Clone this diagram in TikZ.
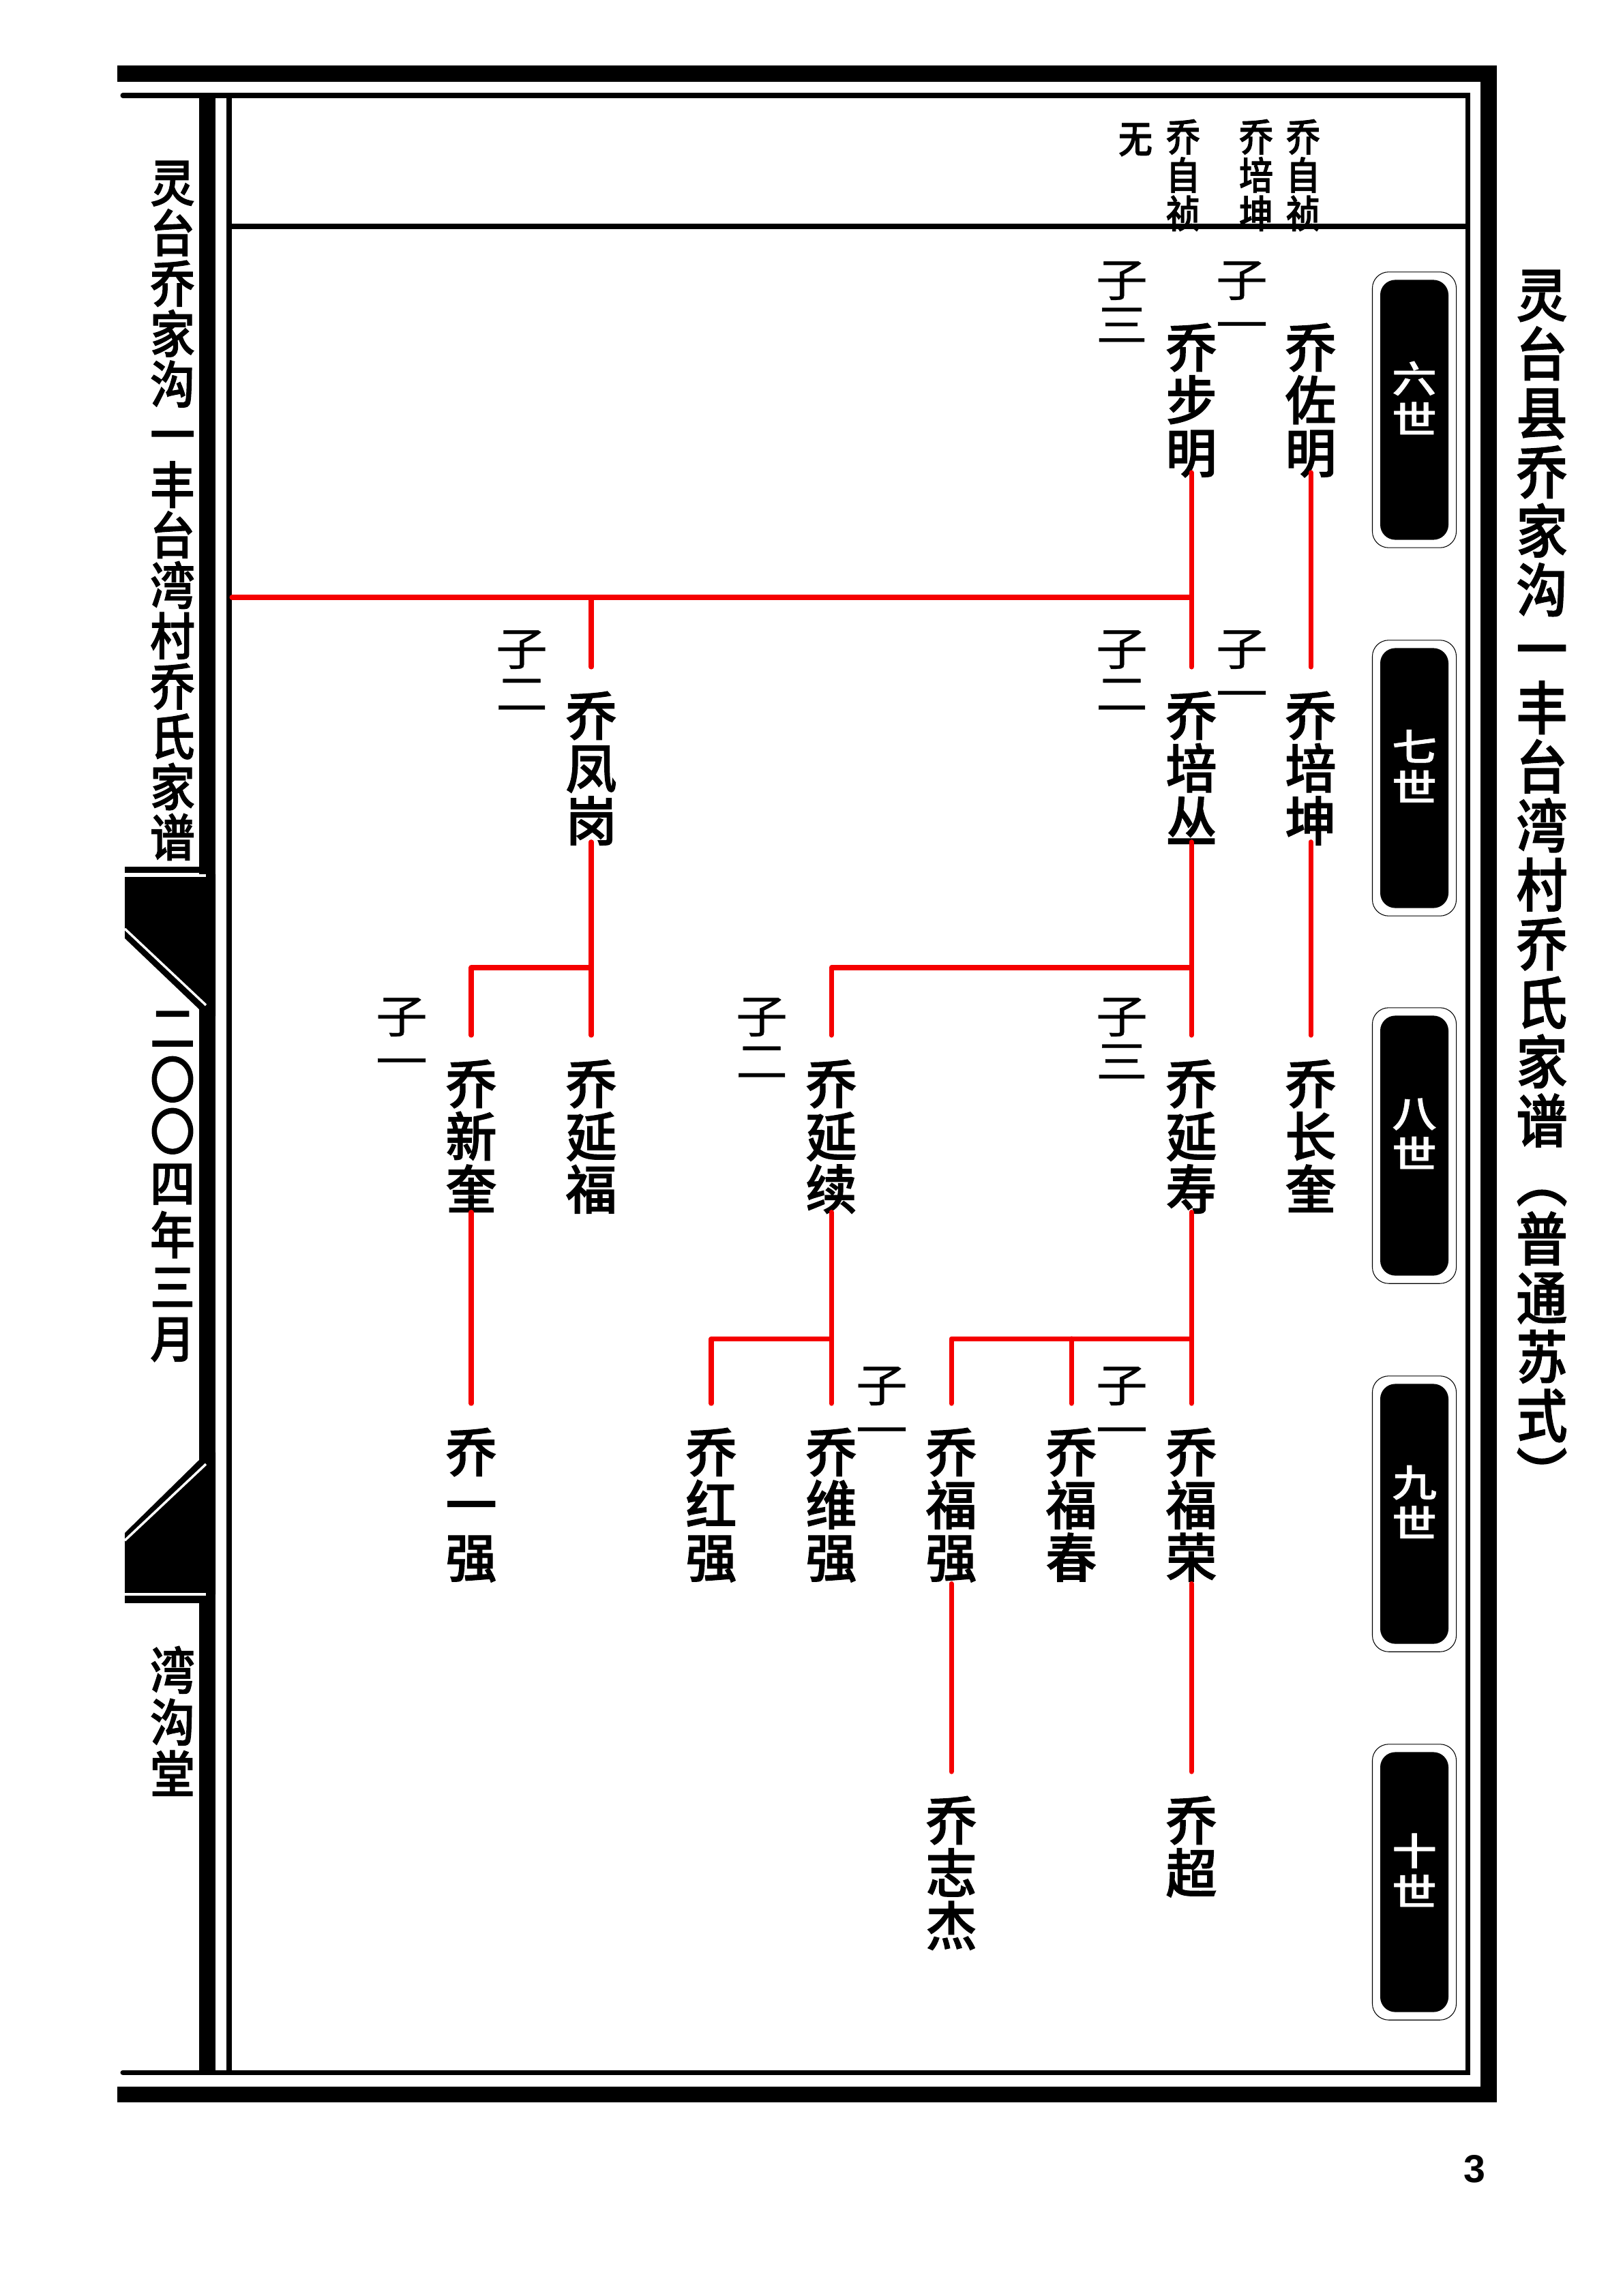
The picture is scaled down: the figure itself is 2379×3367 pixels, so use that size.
\documentclass[tikz,border=0pt]{standalone}
\usepackage{fontspec}
\setmainfont{Noto Sans CJK SC}
\newfontfamily\pagenumfont{Liberation Sans}
\newfontfamily\namefont[FakeStretch=0.97, FakeBold=1.5]{Noto Sans CJK SC Medium}
\newfontfamily\sidefont[FakeStretch=0.89, FakeBold=1.5]{Noto Sans CJK SC Medium}
\newfontfamily\labelfont[FakeStretch=1.15, FakeBold=0.5]{Noto Sans CJK SC}
\newfontfamily\genfont[FakeStretch=1.2, FakeBold=1]{Noto Sans CJK SC Medium}
\definecolor{kinred}{RGB}{245,0,0}
\tikzset{
  vstack/.style={align=center, inner sep=0pt, outer sep=0pt,
    execute at begin node={\rule{0pt}{.88em}},
    execute at end node={\rule[-.12em]{0pt}{.12em}}},
  namebox/.style={vstack, anchor=north, font=\namefont\fontsize{22}{22}\selectfont},
  headbox/.style={vstack, anchor=north, font=\sidefont\fontsize{16}{16}\selectfont},
  ranklabel/.style={vstack, font=\labelfont\fontsize{18.8}{18.8}\selectfont},
  sidebox/.style={vstack, anchor=north, font=\sidefont\fontsize{21}{21}\selectfont},
  datebox/.style={vstack, anchor=north, font=\sidefont\fontsize{21}{21.6}\selectfont},
  titlebox/.style={vstack, anchor=north, font=\sidefont\fontsize{24}{24.6}\selectfont},
  genouter/.style={draw=black, line width=0.3pt, rounded corners=6.8pt, inner sep=0pt,
    minimum width=35pt, minimum height=115pt},
  geninner/.style={fill=black, rounded corners=6.3pt, inner sep=0pt,
    minimum width=28.45pt, minimum height=108.4pt},
  gentext/.style={vstack, text=white, font=\genfont\fontsize{15.6}{17}\selectfont},
  kinbar/.style={draw=kinred, line width=2pt, line cap=round, line join=round},
  kinline/.style={kinbar, shorten >=10.2pt},
  kindrop/.style={kinline, shorten <=#1},
  frameline/.style={draw=black, line width=2pt, line cap=round},
  cutline/.style={draw=white, line width=1pt}
}
\begin{document}
\begin{tikzpicture}[x=0.01cm, y=-0.01cm]
  \useasboundingbox (0, 0) rectangle (2379, 3367);

  % Frame
  \fill (172, 96) rectangle (2195, 120);
  \fill (172, 3060) rectangle (2195, 3083);
  \fill (2171, 96) rectangle (2195, 3083);
  \draw [frameline] (180, 140) -- (2152, 140) -- (2152, 3039) -- (180, 3039);
  \draw [frameline, line cap=butt] (336, 140) -- (336, 3039);
  \draw [frameline, line cap=butt] (336, 332) -- (2152, 332);
  \fill (292, 136) rectangle (316, 3042);

  % Fish tail blocks
  \fill (183, 1271) rectangle (292, 1280);
  \fill (183, 1282) -- (316, 1282) -- (316, 1490) -- (292, 1480) -- (183, 1376) -- cycle;
  \draw [cutline] (183, 1284) -- (302, 1284);
  \draw [cutline] (183, 1362) -- (302, 1474);
  \fill (183, 2340) rectangle (292, 2351);
  \fill (183, 2338) -- (316, 2338) -- (316, 2130) -- (292, 2141) -- (183, 2248) -- cycle;
  \draw [cutline] (183, 2338) -- (302, 2338);
  \draw [cutline] (183, 2259) -- (302, 2147);

  % Side texts
  \node [sidebox] (sidetitle) at (253, 236) {灵\\台\\乔\\家\\沟\\一\\丰\\台\\湾\\村\\乔\\氏\\家\\谱};
  \node [datebox] (sidedate) at (253, 1483) {二\\〇\\〇\\四\\年\\三\\月};
  \node [datebox] (sidehall) at (253, 2414) {湾\\沟\\堂};
  \node [titlebox] (title) at (2261, 396) {灵\\台\\县\\乔\\家\\沟\\一\\丰\\台\\湾\\村\\乔\\氏\\家\\谱\\︵\\普\\通\\苏\\式\\︶};
  \node [font=\pagenumfont\bfseries\fontsize{16.3}{18}\selectfont, inner sep=0pt] (pagenum) at (2162, 3181) {3};

  % Generation tabs
  \node [genouter] (gen6outer) at (2074, 601) {};
  \node [geninner] (gen6) at (2074, 601) {};
  \node [gentext] (gen6text) at (2074, 586) {六\\世};
  \node [genouter] (gen7outer) at (2074, 1141) {};
  \node [geninner] (gen7) at (2074, 1141) {};
  \node [gentext] (gen7text) at (2074, 1126) {七\\世};
  \node [genouter] (gen8outer) at (2074, 1680) {};
  \node [geninner] (gen8) at (2074, 1680) {};
  \node [gentext] (gen8text) at (2074, 1665) {八\\世};
  \node [genouter] (gen9outer) at (2074, 2220) {};
  \node [geninner] (gen9) at (2074, 2220) {};
  \node [gentext] (gen9text) at (2074, 2205) {九\\世};
  \node [genouter] (gen10outer) at (2074, 2760) {};
  \node [geninner] (gen10) at (2074, 2760) {};
  \node [gentext] (gen10text) at (2074, 2745) {十\\世};

  % Header
  \node [headbox] (headzuo) at (1911, 175) {乔\\自\\祯};
  \node [headbox] (headkun) at (1842, 175) {乔\\培\\坤};
  \node [headbox] (headbu) at (1735, 175) {乔\\自\\祯};
  \node [headbox] (headnone) at (1665, 175) {无};

  % Names
  \node [namebox] (zuoming) at (1922, 474) {乔\\佐\\明};
  \node [namebox] (buming) at (1747, 474) {乔\\步\\明};
  \node [namebox] (peikun) at (1922, 1014) {乔\\培\\坤};
  \node [namebox] (peicong) at (1747, 1014) {乔\\培\\丛};
  \node [namebox] (fenggang) at (867, 1014) {乔\\凤\\岗};
  \node [namebox] (changkui) at (1922, 1554) {乔\\长\\奎};
  \node [namebox] (yanshou) at (1747, 1554) {乔\\延\\寿};
  \node [namebox] (yanxu) at (1219, 1554) {乔\\延\\续};
  \node [namebox] (yanfu) at (867, 1554) {乔\\延\\福};
  \node [namebox] (xinkui) at (691, 1554) {乔\\新\\奎};
  \node [namebox] (furong) at (1747, 2094) {乔\\福\\荣};
  \node [namebox] (fuchun) at (1571, 2094) {乔\\福\\春};
  \node [namebox] (fuqiang) at (1395, 2094) {乔\\福\\强};
  \node [namebox] (weiqiang) at (1219, 2094) {乔\\维\\强};
  \node [namebox] (hongqiang) at (1043, 2094) {乔\\红\\强};
  \node [namebox] (yiqiang) at (691, 2094) {乔\\一\\强};
  \node [namebox] (chao) at (1747, 2634) {乔\\超};
  \node [namebox] (zhijie) at (1395, 2634) {乔\\志\\杰};

  % Rank labels
  \node [ranklabel] (rankzuo) at (1821, 446) {子\\一};
  \node [ranklabel] (rankbu) at (1645, 446) {子\\三};
  \node [ranklabel] (rankkun) at (1821, 987) {子\\一};
  \node [ranklabel] (rankcong) at (1645, 987) {子\\二};
  \node [ranklabel] (rankgang) at (765, 987) {子\\二};
  \node [ranklabel] (rankshou) at (1645, 1526) {子\\三};
  \node [ranklabel] (rankxu) at (1117, 1526) {子\\二};
  \node [ranklabel] (rankkui) at (589, 1526) {子\\一};
  \node [ranklabel] (rankrong) at (1645, 2067) {子\\一};
  \node [ranklabel] (rankwei) at (1293, 2067) {子\\一};

  % Junctions
  \coordinate (prevpage) at (340, 876);
  \coordinate (jungang) at (1747, 876);
  \coordinate (junxu) at (1747, 1419);
  \coordinate (junkui) at (867, 1419);
  \coordinate (junqiang) at (1219, 1963);
  \coordinate (junfu) at (1747, 1963);

  % Connections
  \draw [kindrop=-2.7pt] (zuoming.south) -- (peikun.north);
  \draw [kindrop=-2.2pt] (peikun.south) -- (changkui.north);
  \draw [kindrop=-2.7pt] (buming.south) -- (peicong.north);
  \draw [kinbar] (prevpage) -- (jungang);
  \draw [kinline] (jungang) -| (fenggang.north);
  \draw [kindrop=-2.2pt] (peicong.south) -- (yanshou.north);
  \draw [kinline] (junxu) -| (yanxu.north);
  \draw [kindrop=-2.2pt] (fenggang.south) -- (yanfu.north);
  \draw [kinline] (junkui) -| (xinkui.north);
  \draw [kindrop=-1.4pt] (xinkui.south) -- (yiqiang.north);
  \draw [kindrop=-1.4pt] (yanxu.south) -- (weiqiang.north);
  \draw [kinline] (junqiang) -| (hongqiang.north);
  \draw [kindrop=-1.4pt] (yanshou.south) -- (furong.north);
  \draw [kinline] (junfu) -| (fuqiang.north);
  \draw [kinline] (fuchun.north |- junfu) -- (fuchun.north);
  \draw [kindrop=0pt] (furong.south) -- (chao.north);
  \draw [kindrop=0pt] (fuqiang.south) -- (zhijie.north);
\end{tikzpicture}
\end{document}
